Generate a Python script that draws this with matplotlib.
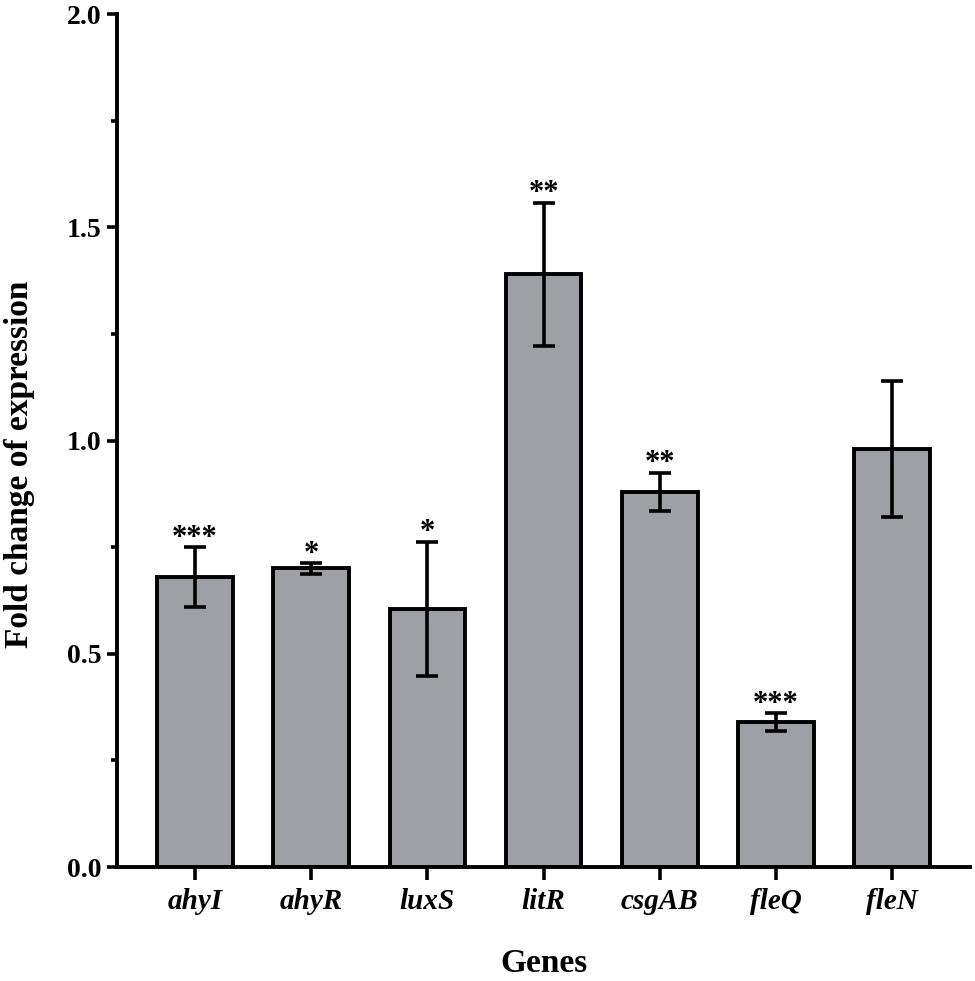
import matplotlib
matplotlib.use("Agg")
import matplotlib.pyplot as plt
from matplotlib.ticker import MultipleLocator

plt.rcParams['font.family'] = ['Liberation Serif', 'DejaVu Serif']

# data
genes = ["ahyI", "ahyR", "luxS", "litR", "csgAB", "fleQ", "fleN"]
fold = [0.68, 0.70, 0.605, 1.39, 0.88, 0.34, 0.98]
err = [0.07, 0.012, 0.158, 0.168, 0.045, 0.02, 0.16]
stars = ["***", "*", "*", "**", "**", "***", ""]

fig = plt.figure(figsize=(9.75, 9.81), dpi=100)
ax = fig.add_axes([0.12, 0.1162, 0.8749, 0.8695])

x = list(range(len(genes)))
ax.bar(x, fold, width=0.65, color="#9fa0a5", edgecolor="black", linewidth=2.8, zorder=2)
ax.errorbar(x, fold, yerr=err, fmt="none", ecolor="black", elinewidth=2.6,
            capsize=8, capthick=2.6, zorder=3)

for xi, f, e, s in zip(x, fold, err, stars):
    if s:
        ax.annotate(s, (xi, f + e), xytext=(0, -4), textcoords="offset points",
                    ha="center", va="bottom", fontsize=22, fontweight="bold")

ax.set_xlim(-0.67, 6.67)
ax.set_ylim(0, 2.0)
ax.yaxis.set_major_locator(MultipleLocator(0.5))
ax.yaxis.set_minor_locator(MultipleLocator(0.25))
ax.yaxis.set_major_formatter(matplotlib.ticker.FormatStrFormatter("%.1f"))

ax.set_xticks(x)
ax.set_xticklabels(genes, fontsize=21, fontweight="bold", fontstyle="italic")
for lab in ax.get_yticklabels():
    lab.set_fontsize(20)
    lab.set_fontweight("bold")

ax.tick_params(axis="y", which="major", length=7, width=2.6, pad=4)
ax.tick_params(axis="y", which="minor", length=4, width=2.6)
ax.tick_params(axis="x", length=9, width=2.6, pad=6)

for side in ["top", "right"]:
    ax.spines[side].set_visible(False)
for side in ["left", "bottom"]:
    ax.spines[side].set_linewidth(2.8)

ax.set_ylabel("Fold change of expression", fontsize=24, fontweight="bold")
ax.yaxis.set_label_coords(-0.096, 0.472)
ax.set_xlabel("Genes", fontsize=24, fontweight="bold", labelpad=24)

fig.savefig("out.png", dpi=100)
